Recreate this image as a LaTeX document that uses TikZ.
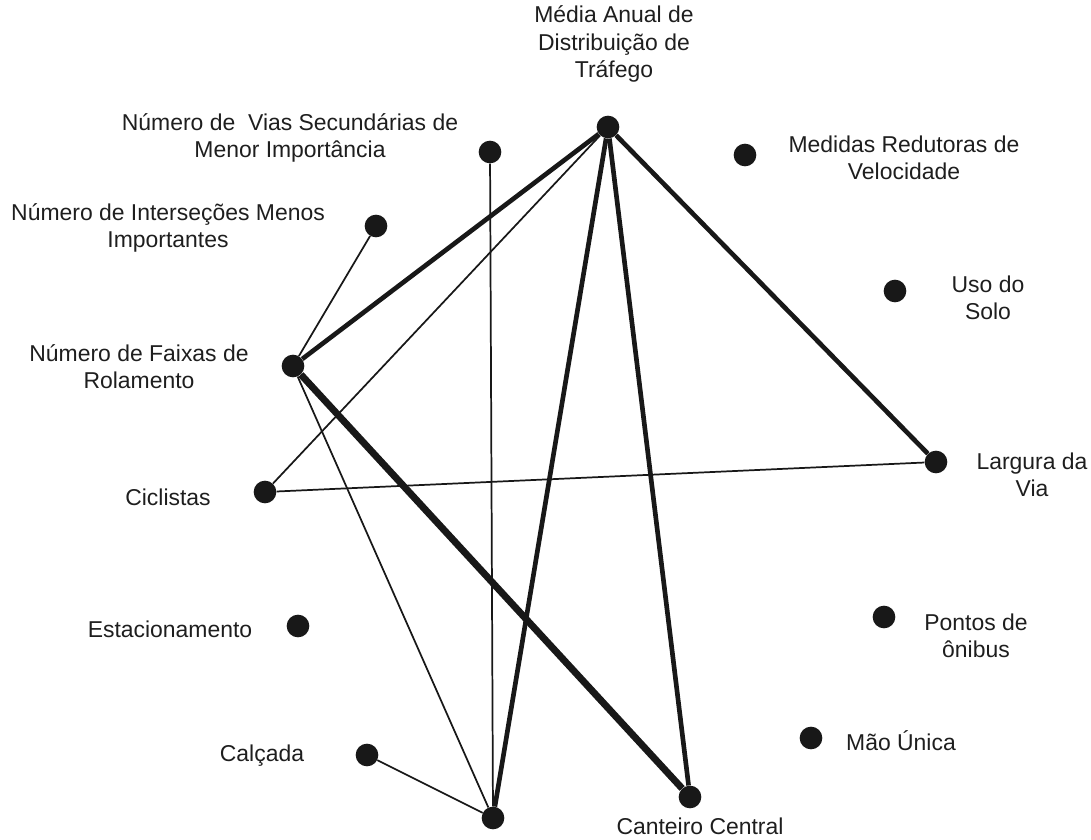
\documentclass[tikz,border=0pt]{standalone}
\usepackage{xcolor}
\usepackage{fontspec}
\setmainfont{Liberation Sans}
\usepackage{tikz}
\usetikzlibrary{calc,positioning}
\definecolor{dotColor}{RGB}{24, 24, 24}
\definecolor{textColor}{RGB}{30, 30, 30}
\tikzset{
    fator/.style={circle, fill=dotColor, inner sep=0pt, minimum size=17pt},
    rotulo/.style={align=center, inner sep=0pt, text=textColor, font=\fontsize{17.2}{20.3}\selectfont},
    fraca/.style={draw=dotColor, line width=1.3pt},
    forte/.style={draw=dotColor, line width=3.5pt},
    muitoforte/.style={draw=dotColor, line width=5.2pt}
}

\begin{document}
\begin{tikzpicture}[x=0.75pt, y=-0.75pt]
            % Canvas
            \useasboundingbox (0,0) rectangle (1091,839);

            % Factors
            \node[fator] (media) at (608,127) {};
            \node[fator] (vias) at (490,152) {};
            \node[fator] (medidas) at (745,155) {};
            \node[fator] (intersecoes) at (376,226) {};
            \node[fator] (uso) at (895,291) {};
            \node[fator] (faixas) at (293,366) {};
            \node[fator] (largura) at (936,462) {};
            \node[fator] (ciclistas) at (265,492) {};
            \node[fator] (estacionamento) at (298,626) {};
            \node[fator] (pontos) at (884,617) {};
            \node[fator] (maounica) at (811,738) {};
            \node[fator] (calcada) at (367,755) {};
            \node[fator] (canteiro) at (690,797) {};
            \node[fator] (acidentes) at (493,818) {};

            % Labels
            \node[rotulo] (mediaTxt) at (614,44) {Média Anual de\\Distribuição de\\Tráfego};
            \node[rotulo] (viasTxt) at (290,138) {Número de\ \ Vias Secundárias de\\Menor Importância};
            \node[rotulo] (medidasTxt) at (904,158) {Medidas Redutoras de\\Velocidade};
            \node[rotulo] (intersecoesTxt) at (168,228) {Número de Interseções Menos\\Importantes};
            \node[rotulo] (usoTxt) at (988,298) {Uso do\\Solo};
            \node[rotulo] (faixasTxt) at (139,367) {Número de Faixas de\\Rolamento};
            \node[rotulo] (larguraTxt) at (1032,475) {Largura da\\Via};
            \node[rotulo] (ciclistasTxt) at (168,497) {Ciclistas};
            \node[rotulo] (estacionamentoTxt) at (170,629) {Estacionamento};
            \node[rotulo] (pontosTxt) at (976,636) {Pontos de\\ônibus};
            \node[rotulo] (maounicaTxt) at (901,741) {Mão Única};
            \node[rotulo] (calcadaTxt) at (262,756) {Calçada};
            \node[rotulo] (canteiroTxt) at (700,826) {Canteiro Central};

            % Weak links
            \draw[fraca] (media) -- (ciclistas);
            \draw[fraca] (vias) -- (acidentes);
            \draw[fraca] (intersecoes) -- (faixas);
            \draw[fraca] (faixas) -- (acidentes);
            \draw[fraca] (ciclistas) -- (largura);
            \draw[fraca] (calcada) -- (acidentes);

            % Strong links
            \draw[forte] (media) -- (faixas);
            \draw[forte] (media) -- (acidentes);
            \draw[forte] (media) -- (canteiro);
            \draw[forte] (media) -- (largura);
            \draw[muitoforte] (faixas) -- (canteiro);
        \end{tikzpicture}
\end{document}
